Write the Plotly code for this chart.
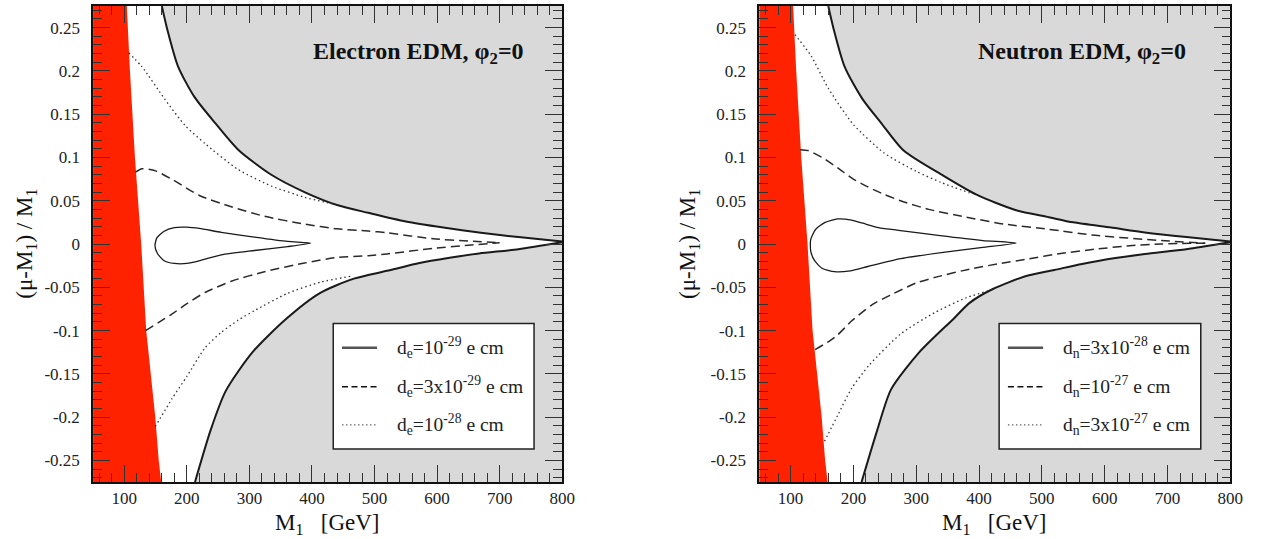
import plotly.graph_objects as go

# ---------------- axis ranges / ticks ----------------
X_RANGE = [50, 800]
Y_RANGE = [-0.275, 0.275]
X_TICKS = [100, 200, 300, 400, 500, 600, 700, 800]
X_TICKTEXT = ["100", "200", "300", "400", "500", "600", "700", "800"]
Y_TICKS = [0.25, 0.2, 0.15, 0.1, 0.05, 0, -0.05, -0.1, -0.15, -0.2, -0.25]
Y_TICKTEXT = ["0.25", "0.2", "0.15", "0.1", "0.05", "0", "-0.05", "-0.1", "-0.15", "-0.2", "-0.25"]

# ---------------- excluded (red) region edge, both panels ----------------
RED_EDGE_Y = [0.275, 0.2, 0.1, 0.0, -0.1, -0.2, -0.25, -0.275]
RED_EDGE_X = [104, 109, 117, 127, 135, 149.5, 155, 159]

# ---------------- Electron EDM panel ----------------
E_UPPER_X = [160, 168, 186, 212, 245, 282, 335, 388, 440, 490, 550, 610, 670, 730, 800]
E_UPPER_Y = [0.275, 0.25, 0.205, 0.170, 0.140, 0.109, 0.080, 0.060, 0.045, 0.036, 0.026, 0.019, 0.013, 0.008, 0.003]
E_LOWER_X = [213, 238, 262, 305, 358, 412, 467, 520, 572, 620, 667, 730, 800]
E_LOWER_Y = [-0.275, -0.215, -0.170, -0.125, -0.087, -0.057, -0.040, -0.031, -0.022, -0.016, -0.011, -0.006, 0.002]

E_DOT_UP_X = [107, 128, 165, 197, 229, 282, 335, 388, 435]
E_DOT_UP_Y = [0.221, 0.205, 0.167, 0.137, 0.116, 0.086, 0.067, 0.054, 0.046]
E_DOT_LO_X = [149.5, 176, 200, 229, 255, 282, 308, 361, 414, 465]
E_DOT_LO_Y = [-0.211, -0.179, -0.153, -0.120, -0.102, -0.088, -0.077, -0.057, -0.044, -0.037]

E_DASH_UP_X = [118, 128, 150, 178, 220, 271, 324, 388, 440, 490, 520, 594, 650, 700]
E_DASH_UP_Y = [0.083, 0.087, 0.0845, 0.074, 0.056, 0.043, 0.032, 0.023, 0.0175, 0.015, 0.013, 0.006, 0.0035, 0.0015]
E_DASH_LO_X = [134, 165, 176, 200, 229, 271, 324, 388, 440, 490, 520, 594, 650, 700]
E_DASH_LO_Y = [-0.100, -0.086, -0.081, -0.069, -0.056, -0.043, -0.032, -0.022, -0.0155, -0.0135, -0.0115, -0.005, -0.0015, 0.0015]

E_LOOP_X = [398, 361, 308, 255, 220, 200, 180, 163, 152, 149, 153, 163, 180, 200, 222, 255, 308, 361, 398]
E_LOOP_Y = [0.001, 0.003, 0.008, 0.0135, 0.018, 0.0195, 0.019, 0.0145, 0.007, -0.002, -0.011, -0.019, -0.0225, -0.0225, -0.019, -0.0125, -0.0075, -0.003, 0.001]

E_NAMES = ["d<sub>e</sub>=10<sup>-29</sup> e cm",
           "d<sub>e</sub>=3x10<sup>-29</sup> e cm",
           "d<sub>e</sub>=10<sup>-28</sup> e cm"]
E_TITLE = "<b>Electron EDM, φ<sub>2</sub>=0</b>"

# ---------------- Neutron EDM panel ----------------
N_UPPER_X = [160, 168, 186, 214, 244, 280, 343, 396, 459, 511, 550, 610, 664, 730, 800]
N_UPPER_Y = [0.275, 0.25, 0.205, 0.168, 0.140, 0.108, 0.079, 0.057, 0.039, 0.031, 0.025, 0.019, 0.0134, 0.008, 0.003]
N_LOWER_X = [213, 238, 260, 305, 360, 385, 422, 475, 520, 564, 620, 664, 730, 800]
N_LOWER_Y = [-0.275, -0.215, -0.168, -0.125, -0.086, -0.068, -0.052, -0.037, -0.030, -0.023, -0.016, -0.0115, -0.006, 0.002]

N_DOT_UP_X = [107, 133, 160, 200, 249, 300, 340, 385]
N_DOT_UP_Y = [0.242, 0.217, 0.180, 0.138, 0.105, 0.084, 0.071, 0.059]
N_DOT_LO_X = [154, 175, 197, 225, 275, 330, 380, 425]
N_DOT_LO_Y = [-0.228, -0.198, -0.167, -0.140, -0.104, -0.079, -0.062, -0.052]

N_DASH_UP_X = [115, 128, 150, 175, 200, 223, 250, 275, 320, 380, 440, 511, 585, 690, 760]
N_DASH_UP_Y = [0.109, 0.108, 0.100, 0.088, 0.075, 0.066, 0.057, 0.050, 0.040, 0.031, 0.023, 0.017, 0.010, 0.004, 0.001]
N_DASH_LO_X = [139, 160, 175, 197, 230, 259, 300, 333, 385, 430, 480, 530, 585, 640, 690, 760]
N_DASH_LO_Y = [-0.122, -0.113, -0.105, -0.089, -0.070, -0.059, -0.045, -0.038, -0.029, -0.023, -0.017, -0.011, -0.006, -0.002, 0.0, 0.001]

N_LOOP_X = [459, 406, 338, 275, 240, 215, 195, 175, 155, 140, 132, 132, 138, 150, 170, 195, 223, 275, 343, 406, 459]
N_LOOP_Y = [0.001, 0.004, 0.0096, 0.0155, 0.019, 0.024, 0.028, 0.029, 0.025, 0.017, 0.005, -0.008, -0.019, -0.028, -0.032, -0.031, -0.026, -0.017, -0.0096, -0.004, 0.001]

N_NAMES = ["d<sub>n</sub>=3x10<sup>-28</sup> e cm",
           "d<sub>n</sub>=10<sup>-27</sup> e cm",
           "d<sub>n</sub>=3x10<sup>-27</sup> e cm"]
N_TITLE = "<b>Neutron EDM, φ<sub>2</sub>=0</b>"

# ---------------- styles ----------------
GRAY = "#d9d9d9"
RED = "#ff2200"
INK = "#1a1a1a"
FONT = "Liberation Serif, Times New Roman, serif"

fig = go.Figure()


def add_panel(xa, ya, upper, lower, dot_up, dot_lo, dash_up, dash_lo, loop, names):
    common = dict(xaxis=xa, yaxis=ya, hoverinfo="skip", showlegend=False)
    # gray disallowed regions: invisible frame edge, then smooth boundary filled to it
    for (xs, ys), edge_y in ((upper, Y_RANGE[1]), (lower, Y_RANGE[0])):
        fig.add_trace(go.Scatter(x=[xs[0], X_RANGE[1]], y=[edge_y, edge_y], mode="lines",
                                 line=dict(width=0, color=GRAY), **common))
        fig.add_trace(go.Scatter(x=xs, y=ys, mode="lines", fill="tonexty", fillcolor=GRAY,
                                 line=dict(color=INK, width=2, shape="spline", smoothing=0.7),
                                 **common))
    # red excluded region
    fig.add_trace(go.Scatter(x=[X_RANGE[0]] + RED_EDGE_X + [X_RANGE[0]],
                             y=[Y_RANGE[1]] + RED_EDGE_Y + [Y_RANGE[0]],
                             mode="lines", fill="toself", fillcolor=RED,
                             line=dict(width=0), **common))
    # contours
    fig.add_trace(go.Scatter(x=loop[0], y=loop[1], mode="lines", name=names[0],
                             line=dict(color=INK, width=1.3, shape="spline", smoothing=0.6),
                             **common))
    for xs, ys in (dash_up, dash_lo):
        fig.add_trace(go.Scatter(x=xs, y=ys, mode="lines", name=names[1],
                                 line=dict(color="#2a2a2a", width=1.5, dash="9px,5px",
                                           shape="spline", smoothing=0.6), **common))
    for xs, ys in (dot_up, dot_lo):
        fig.add_trace(go.Scatter(x=xs, y=ys, mode="lines", name=names[2],
                                 line=dict(color="#333333", width=1.3, dash="1.5px,3px",
                                           shape="spline", smoothing=0.6), **common))


add_panel("x", "y", (E_UPPER_X, E_UPPER_Y), (E_LOWER_X, E_LOWER_Y),
          (E_DOT_UP_X, E_DOT_UP_Y), (E_DOT_LO_X, E_DOT_LO_Y),
          (E_DASH_UP_X, E_DASH_UP_Y), (E_DASH_LO_X, E_DASH_LO_Y),
          (E_LOOP_X, E_LOOP_Y), E_NAMES)
add_panel("x2", "y2", (N_UPPER_X, N_UPPER_Y), (N_LOWER_X, N_LOWER_Y),
          (N_DOT_UP_X, N_DOT_UP_Y), (N_DOT_LO_X, N_DOT_LO_Y),
          (N_DASH_UP_X, N_DASH_UP_Y), (N_DASH_LO_X, N_DASH_LO_Y),
          (N_LOOP_X, N_LOOP_Y), N_NAMES)

# ---------------- axes ----------------
W, H = 1273, 539
tickfont = dict(family=FONT, size=17, color="#222222")


def xaxis(domain, anchor):
    return dict(domain=domain, anchor=anchor, range=X_RANGE, tickvals=X_TICKS, ticktext=X_TICKTEXT,
                ticks="inside", ticklen=17, tickwidth=1.2, tickcolor="#333333",
                minor=dict(ticks="inside", ticklen=9, dtick=20, tick0=0, tickwidth=1, tickcolor="#333333"),
                showline=True, linecolor="#111111", linewidth=1.5, mirror="allticks",
                showgrid=False, zeroline=False, tickfont=tickfont, ticklabelstandoff=0)


def yaxis(domain, anchor):
    return dict(domain=domain, anchor=anchor, range=Y_RANGE, tickvals=Y_TICKS, ticktext=Y_TICKTEXT,
                ticks="inside", ticklen=17, tickwidth=1.2, tickcolor="#333333",
                minor=dict(ticks="inside", ticklen=9, dtick=0.01, tick0=0, tickwidth=1, tickcolor="#333333"),
                showline=True, linecolor="#111111", linewidth=1.5, mirror="allticks",
                showgrid=False, zeroline=False, tickfont=tickfont, ticklabelstandoff=8)


XD1 = [94 / W, 568 / W]
XD2 = [767 / W, 1243 / W]
YD = [1 - 482 / H, 1 - 6 / H]

# ---------------- legends (drawn inside each panel) ----------------
shapes = []
annotations = []
LEG_BOX = dict(x0=434, x1=755, y0=-0.237, y1=-0.092)
LEG_ROWS_Y = [-0.120, -0.165, -0.209]
LEG_LINE_X = [448, 504]
LEG_TEXT_X = 532
LEG_STYLES = [dict(color="#555555", width=2.5, dash="solid"),
              dict(color="#111111", width=1.5, dash="6px,3.5px"),
              dict(color="#666666", width=1.3, dash="1.5px,2.5px")]

for xr, yr, names, dx in (("x", "y", E_NAMES, 0), ("x2", "y2", N_NAMES, -2)):
    shapes.append(dict(type="rect", xref=xr, yref=yr, x0=LEG_BOX["x0"] + dx, x1=LEG_BOX["x1"] + dx,
                       y0=LEG_BOX["y0"], y1=LEG_BOX["y1"], fillcolor="white",
                       line=dict(color="#222222", width=1.5), layer="above"))
    for name, yrow, st in zip(names, LEG_ROWS_Y, LEG_STYLES):
        shapes.append(dict(type="line", xref=xr, yref=yr, x0=LEG_LINE_X[0] + dx, x1=LEG_LINE_X[1] + dx,
                           y0=yrow, y1=yrow, line=st, layer="above"))
        annotations.append(dict(xref=xr, yref=yr, x=LEG_TEXT_X + dx, y=yrow, text=name,
                                showarrow=False, xanchor="left", yanchor="middle",
                                font=dict(family=FONT, size=19.5, color="#222222")))

# panel titles
annotations.append(dict(xref="x", yref="y", x=742, y=0.221, text=E_TITLE, showarrow=False,
                        xanchor="right", yanchor="middle", font=dict(family=FONT, size=24, color="#111111")))
annotations.append(dict(xref="x2", yref="y2", x=732, y=0.221, text=N_TITLE, showarrow=False,
                        xanchor="right", yanchor="middle", font=dict(family=FONT, size=24, color="#111111")))

# axis titles
XTITLE = "M<sub>1</sub>\u00a0\u00a0\u00a0[GeV]"
YTITLE = "(μ-M<sub>1</sub>) / M<sub>1</sub>"
for xd in (XD1, XD2):
    annotations.append(dict(xref="paper", yref="paper", x=(xd[0] + xd[1]) / 2, y=1 - 524 / H,
                            text=XTITLE, showarrow=False, xanchor="center", yanchor="middle",
                            font=dict(family=FONT, size=23, color="#111111")))
for px in (26, 696):
    annotations.append(dict(xref="paper", yref="paper", x=px / W, y=(YD[0] + YD[1]) / 2,
                            text=YTITLE, showarrow=False, xanchor="center", yanchor="middle",
                            textangle=-90, font=dict(family=FONT, size=23, color="#111111")))

fig.update_layout(
    width=W, height=H, autosize=False,
    margin=dict(l=0, r=0, t=0, b=0),
    font=dict(family=FONT, color="#222222"),
    paper_bgcolor="white", plot_bgcolor="white",
    xaxis=xaxis(XD1, "y"), yaxis=yaxis(YD, "x"),
    xaxis2=xaxis(XD2, "y2"), yaxis2=yaxis(YD, "x2"),
    shapes=shapes, annotations=annotations,
    showlegend=False,
)

fig.write_html("out.html")
